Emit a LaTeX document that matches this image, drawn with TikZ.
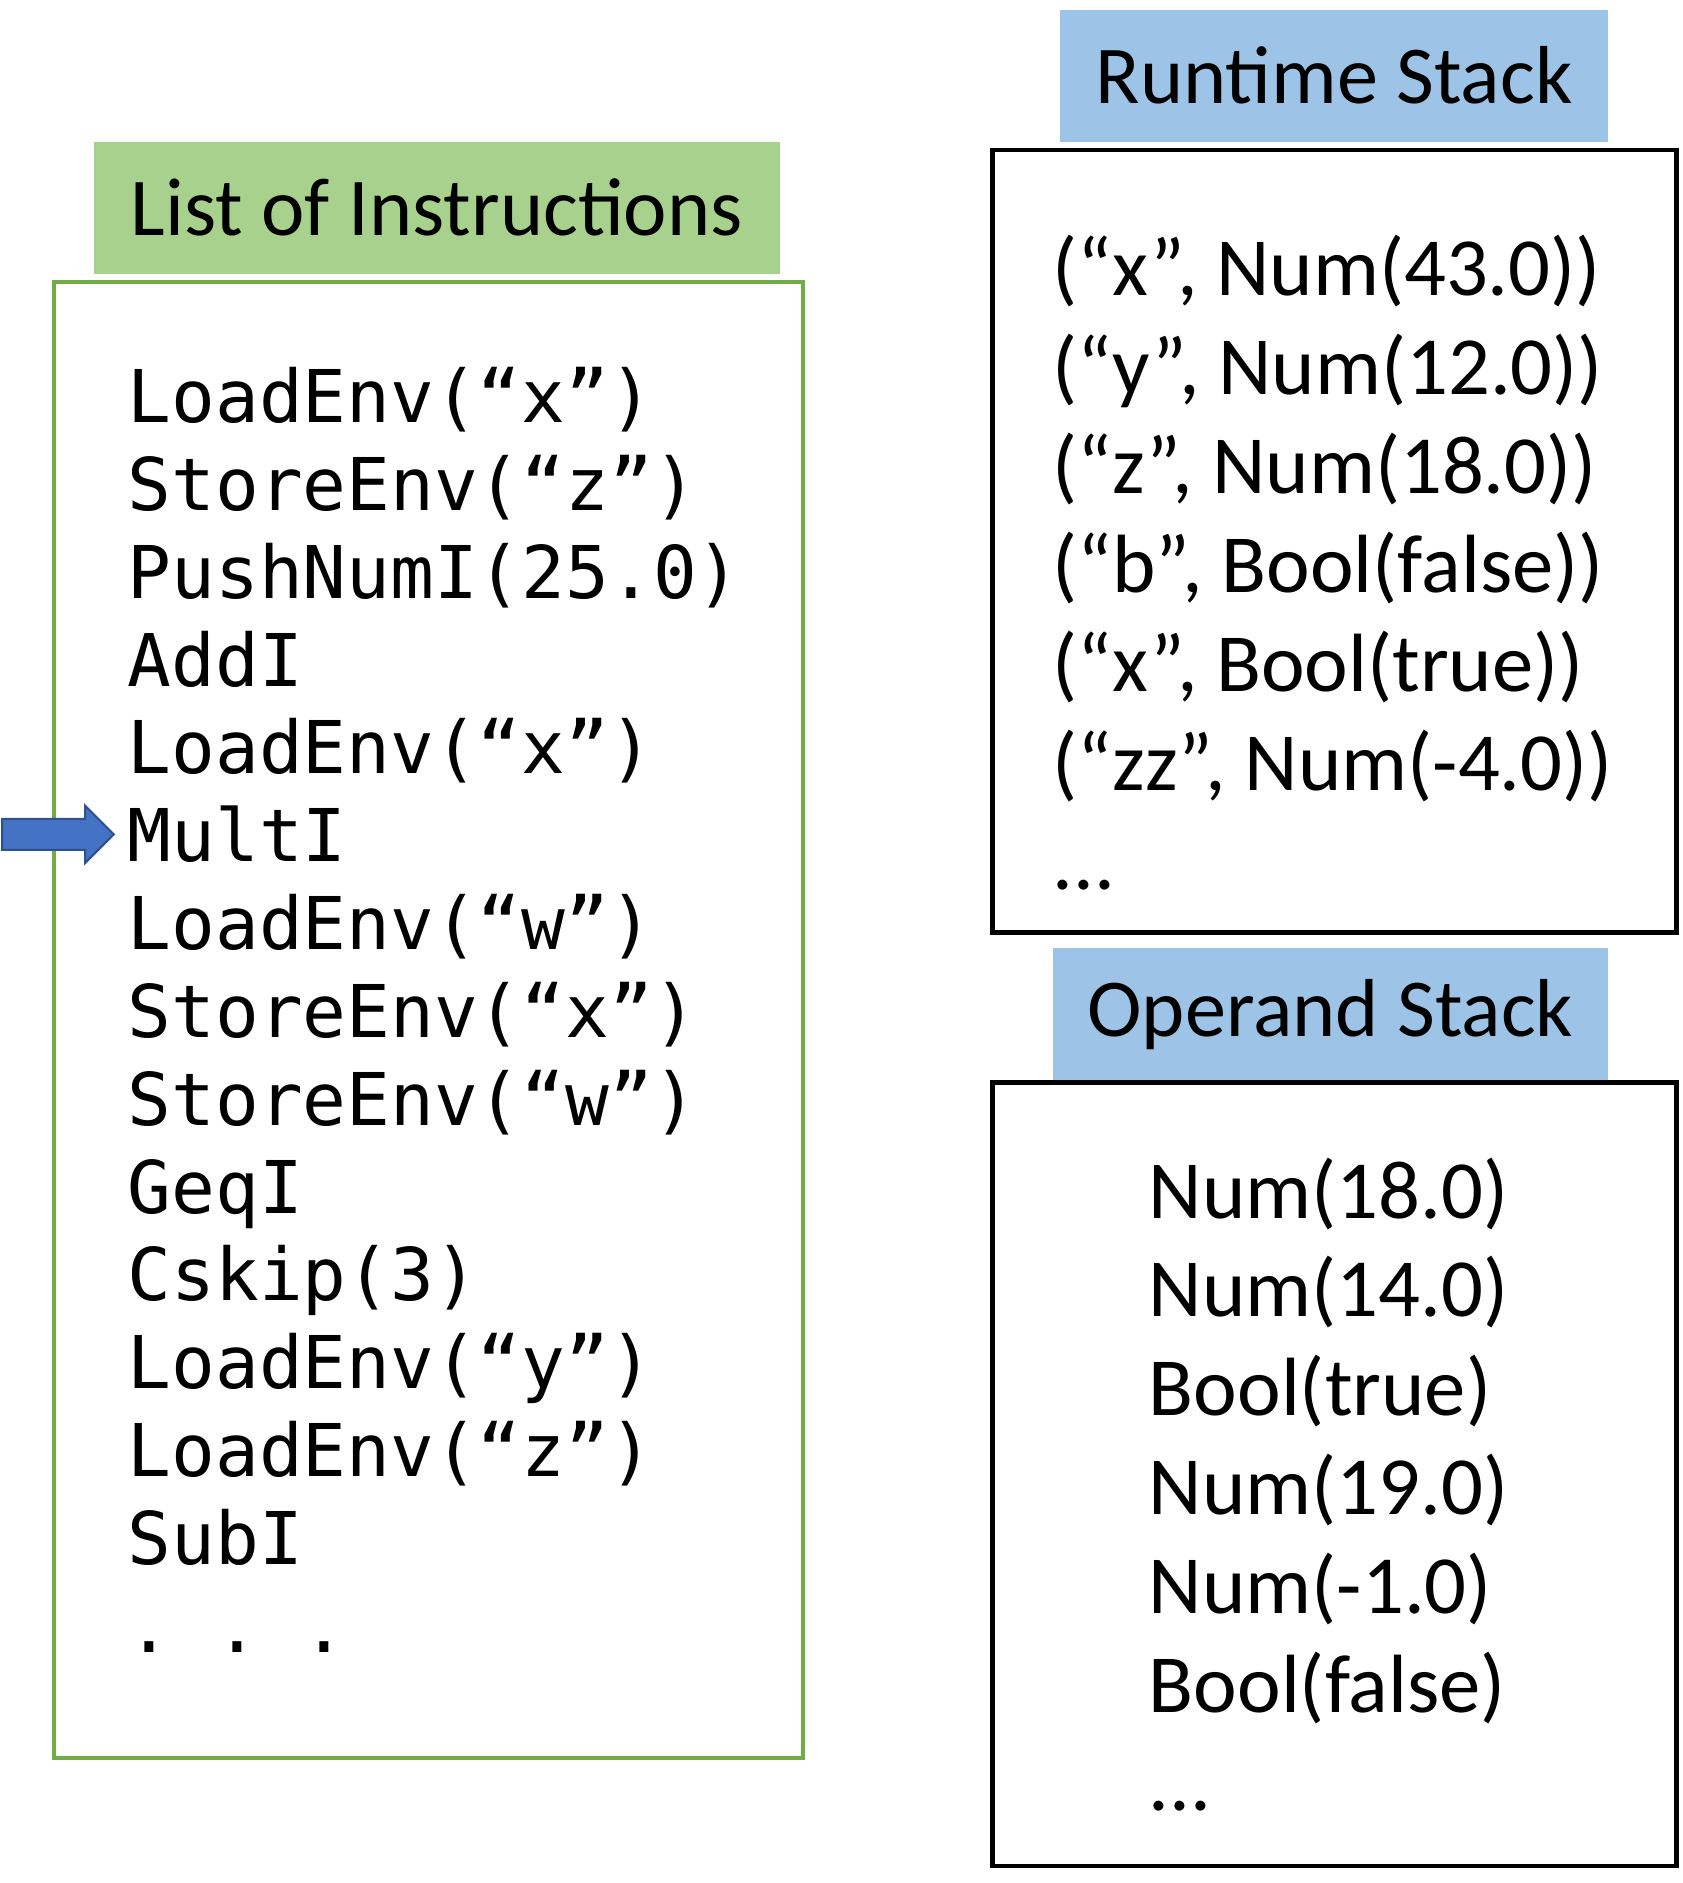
\documentclass[tikz,border=0pt]{standalone}
\usepackage{fontspec}
\setmainfont{Carlito}
\setmonofont{DejaVu Sans Mono}
\definecolor{HeadGreen}{RGB}{169, 209, 142}
\definecolor{FrameGreen}{RGB}{112, 173, 71}
\definecolor{HeadBlue}{RGB}{157, 195, 230}
\definecolor{PtrBlue}{RGB}{68, 114, 196}
\definecolor{PtrEdge}{RGB}{47, 82, 143}
\usetikzlibrary{positioning, shapes.arrows}
\newcommand{\stackdots}{.{}.{}.}

\begin{document}
\begin{tikzpicture}[x=0.02cm, y=-0.02cm,
        head/.style={rectangle, minimum height=2.2cm, inner sep=0pt, font=\fontsize{39}{46}\selectfont},
        instr/.style={anchor=base west, inner sep=0pt, font=\ttfamily\fontsize{34.5}{40}\selectfont},
        entry/.style={anchor=base west, inner sep=0pt, font=\fontsize{39.2}{46}\selectfont},
        pointer/.style={single arrow, draw=PtrEdge, fill=PtrBlue, line width=1pt, minimum height=1.86cm, minimum width=0.92cm, inner sep=0.24cm, single arrow head extend=0.22cm}]

        \useasboundingbox (0,0) rectangle (1402,1569);

        % List of instructions
        \node[head, fill=HeadGreen, minimum width=11.44cm] (listhead) at (364,173) {List of Instructions};
        \draw[FrameGreen, line width=1.8pt] (45,235) rectangle (669,1465);
        \foreach \txt [count=\i] in {LoadEnv(“x”), StoreEnv(“z”), PushNumI(25.0), AddI, LoadEnv(“x”), MultI, LoadEnv(“w”), StoreEnv(“x”), StoreEnv(“w”), GeqI, Cskip(3), LoadEnv(“y”), LoadEnv(“z”), SubI, {.~.~.}}
            \node[instr] (ins\i) at (106, {352+73.2*(\i-1)}) {\txt};

        % Current instruction
        \node[pointer, left=0.2cm of ins6] (ptr) {};

        % Runtime stack
        \node[head, fill=HeadBlue, minimum width=9.14cm] (runhead) at (1111.5,63) {Runtime Stack};
        \draw[line width=2pt] (827,125) rectangle (1397,777);
        \foreach \txt [count=\i] in {{(“x”, Num(43.0))}, {(“y”, Num(12.0))}, {(“z”, Num(18.0))}, {(“b”, Bool(false))}, {(“x”, Bool(true))}, {(“zz”, Num(-4.0))}, \stackdots}
            \node[entry] (run\i) at (877, {246+82.5*(\i-1)}) {\txt};

        % Operand stack
        \node[head, fill=HeadBlue, minimum width=9.26cm] (ophead) at (1108.5,845) {Operand Stack};
        \draw[line width=2pt] (827,902) rectangle (1397,1555);
        \foreach \txt [count=\i] in {Num(18.0), Num(14.0), Bool(true), Num(19.0), Num(-1.0), Bool(false), \stackdots}
            \node[entry] (op\i) at (957, {1015+82.3*(\i-1)}) {\txt};

    \end{tikzpicture}
\end{document}
